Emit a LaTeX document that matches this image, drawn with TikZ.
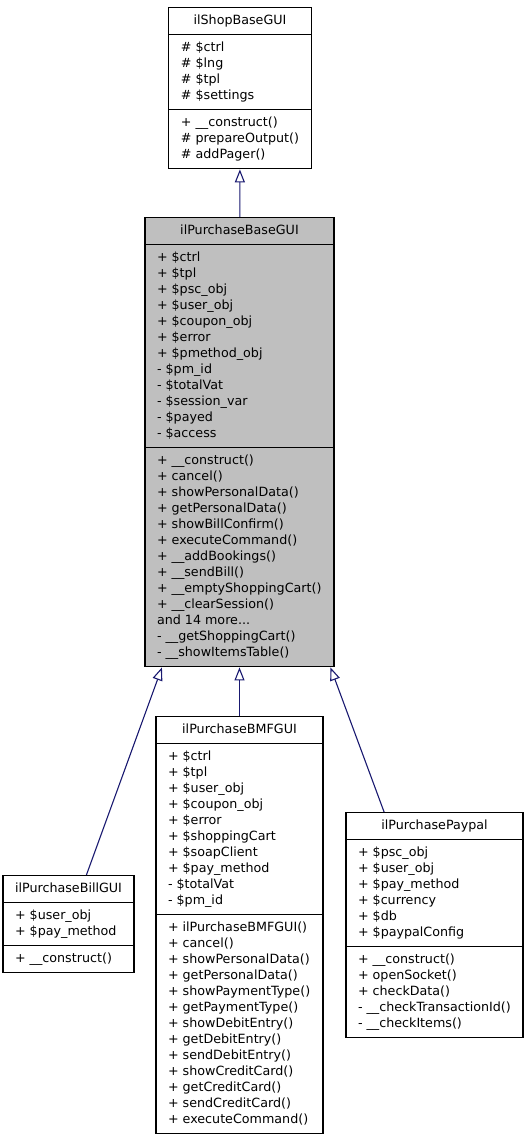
\documentclass[tikz,border=0pt]{standalone}
\usepackage{fontspec}
\newfontfamily\umlfont{DejaVu Sans}
\usepackage{tikz}
\usetikzlibrary{shapes.multipart,arrows.meta}
\definecolor{edgeblue}{RGB}{25,25,112}
\definecolor{basegray}{RGB}{191,191,191}
\tikzset{
  every node/.style={
    font=\umlfont\fontsize{12.7}{16}\selectfont
  },
  umlclass/.style={
    shape=rectangle split,
    rectangle split parts=3,
    rectangle split part align={center,left,left},
    draw=black,
    line width=1.1pt,
    fill=white,
    align=left,
    inner xsep=12pt,
    inner ysep=5pt,
    anchor=north
  },
  baseclass/.style={
    umlclass,
    fill=basegray
  },
  inherit/.style={
    draw=edgeblue,
    line width=1.1pt,
    -{Triangle[open,length=13pt,width=10pt]}
  }
}

\begin{document}
\begin{tikzpicture}[x=1pt,y=-1pt]
\useasboundingbox (0,0) rectangle (525,1139);

\node [umlclass, minimum width=142pt] (shopbase) at (240,7) {
  \strut ilShopBaseGUI
  \nodepart{two}
  \strut\# \$ctrl\\
  \# \$lng\\
  \# \$tpl\\
  \# \$settings\strut
  \nodepart{three}
  \strut+ \_\_construct()\\
  \# prepareOutput()\\
  \# addPager()\strut
};

\node [baseclass, minimum width=189pt] (basegui) at (239.5,217) {
  \strut ilPurchaseBaseGUI
  \nodepart{two}
  \strut+ \$ctrl\\
  + \$tpl\\
  + \$psc\_obj\\
  + \$user\_obj\\
  + \$coupon\_obj\\
  + \$error\\
  + \$pmethod\_obj\\
  - \$pm\_id\\
  - \$totalVat\\
  - \$session\_var\\
  - \$payed\\
  - \$access\strut
  \nodepart{three}
  \strut+ \_\_construct()\\
  + cancel()\\
  + showPersonalData()\\
  + getPersonalData()\\
  + showBillConfirm()\\
  + executeCommand()\\
  + \_\_addBookings()\\
  + \_\_sendBill()\\
  + \_\_emptyShoppingCart()\\
  + \_\_clearSession()\\
  and 14 more...\\
  - \_\_getShoppingCart()\\
  - \_\_showItemsTable()\strut
};

\node [umlclass, minimum width=127pt] (bill) at (68.5,875) {
  \strut ilPurchaseBillGUI
  \nodepart{two}
  \strut+ \$user\_obj\\
  + \$pay\_method\strut
  \nodepart{three}
  \strut+ \_\_construct()\strut
};

\node [umlclass, minimum width=167pt] (bmf) at (239.5,716) {
  \strut ilPurchaseBMFGUI
  \nodepart{two}
  \strut+ \$ctrl\\
  + \$tpl\\
  + \$user\_obj\\
  + \$coupon\_obj\\
  + \$error\\
  + \$shoppingCart\\
  + \$soapClient\\
  + \$pay\_method\\
  - \$totalVat\\
  - \$pm\_id\strut
  \nodepart{three}
  \strut+ ilPurchaseBMFGUI()\\
  + cancel()\\
  + showPersonalData()\\
  + getPersonalData()\\
  + showPaymentType()\\
  + getPaymentType()\\
  + showDebitEntry()\\
  + getDebitEntry()\\
  + sendDebitEntry()\\
  + showCreditCard()\\
  + getCreditCard()\\
  + sendCreditCard()\\
  + executeCommand()\strut
};

\node [umlclass, minimum width=177pt] (paypal) at (434.5,812) {
  \strut ilPurchasePaypal
  \nodepart{two}
  \strut+ \$psc\_obj\\
  + \$user\_obj\\
  + \$pay\_method\\
  + \$currency\\
  + \$db\\
  + \$paypalConfig\strut
  \nodepart{three}
  \strut+ \_\_construct()\\
  + openSocket()\\
  + checkData()\\
  - \_\_checkTransactionId()\\
  - \_\_checkItems()\strut
};

% inheritance
\draw [inherit] (basegui) -- (shopbase);
\draw [inherit] (bill.70) -- (basegui.251);
\draw [inherit] (bmf) -- (basegui);
\draw [inherit] (paypal.114) -- (basegui.292);

\end{tikzpicture}
\end{document}
